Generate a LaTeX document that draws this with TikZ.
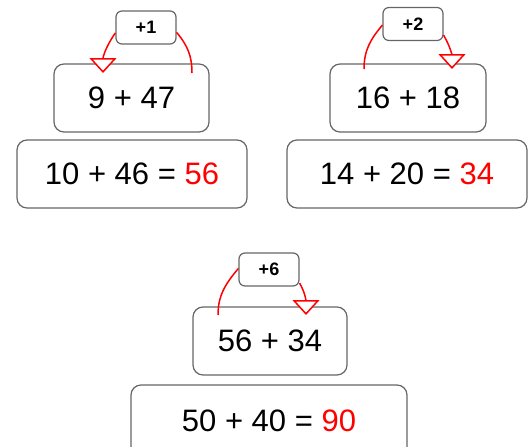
\documentclass[tikz,border=0pt]{standalone}
\usepackage{fontspec}
\setmainfont{Liberation Sans}
\usepackage{tikz}
\usetikzlibrary{arrows.meta,calc}

\begin{document}
\begin{tikzpicture}[
    x=1pt, y=-1pt,
    sum_box/.style={draw=black!60, line width=1.2pt, rounded corners=10pt, inner sep=0pt, font=\fontsize{31}{36}\selectfont},
    step_box/.style={draw=black!60, line width=1.2pt, rounded corners=6pt, inner sep=0pt, minimum width=60pt, minimum height=33pt, font=\bfseries\fontsize{18}{21}\selectfont},
    jump/.style={red, line width=1.5pt},
    jump_arrow/.style={jump, -{Triangle[open, fill=white, width=27pt, length=15pt]}}
]
    \useasboundingbox (0,0) rectangle (528,447);
    \clip (0,0) rectangle (528,447);

    % first sum
    \node[step_box] (s1) at (146,27.5) {+1};
    \node[sum_box, minimum width=155pt, minimum height=68pt] (m1) at (131.5,98) {9 + 47};
    \node[sum_box, minimum width=230pt, minimum height=68pt] (a1) at (132,174) {10 + 46 = \textcolor{red}{56}};
    \coordinate (t1) at (103,73);
    \coordinate (e1) at (192,73);
    \draw[jump_arrow] (s1.190) to[out=235, in=90] (t1);
    \draw[jump] (s1.-9) to[out=-50, in=90] (e1);

    % second sum
    \node[step_box] (s2) at (413,24) {+2};
    \node[sum_box, minimum width=156pt, minimum height=68pt] (m2) at (408,98) {16 + 18};
    \node[sum_box, minimum width=240pt, minimum height=68pt] (a2) at (407,174) {14 + 20 = \textcolor{red}{34}};
    \coordinate (t2) at (452,69);
    \coordinate (e2) at (364,69);
    \draw[jump] (s2.182) to[out=230, in=90] (e2);
    \draw[jump_arrow] (s2.-20) to[out=-60, in=90] (t2);

    % third sum
    \node[step_box] (s3) at (269,269.5) {+6};
    \node[sum_box, minimum width=154pt, minimum height=68pt] (m3) at (270,341) {56 + 34};
    \node[sum_box, minimum width=276pt, minimum height=72pt] (a3) at (269,421) {50 + 40 = \textcolor{red}{90}};
    \coordinate (t3) at (306,315);
    \coordinate (e3) at (218,315);
    \draw[jump] (s3.178) to[out=230, in=90] (e3);
    \draw[jump_arrow] (s3.-24) to[out=-60, in=90] (t3);
\end{tikzpicture}
\end{document}
